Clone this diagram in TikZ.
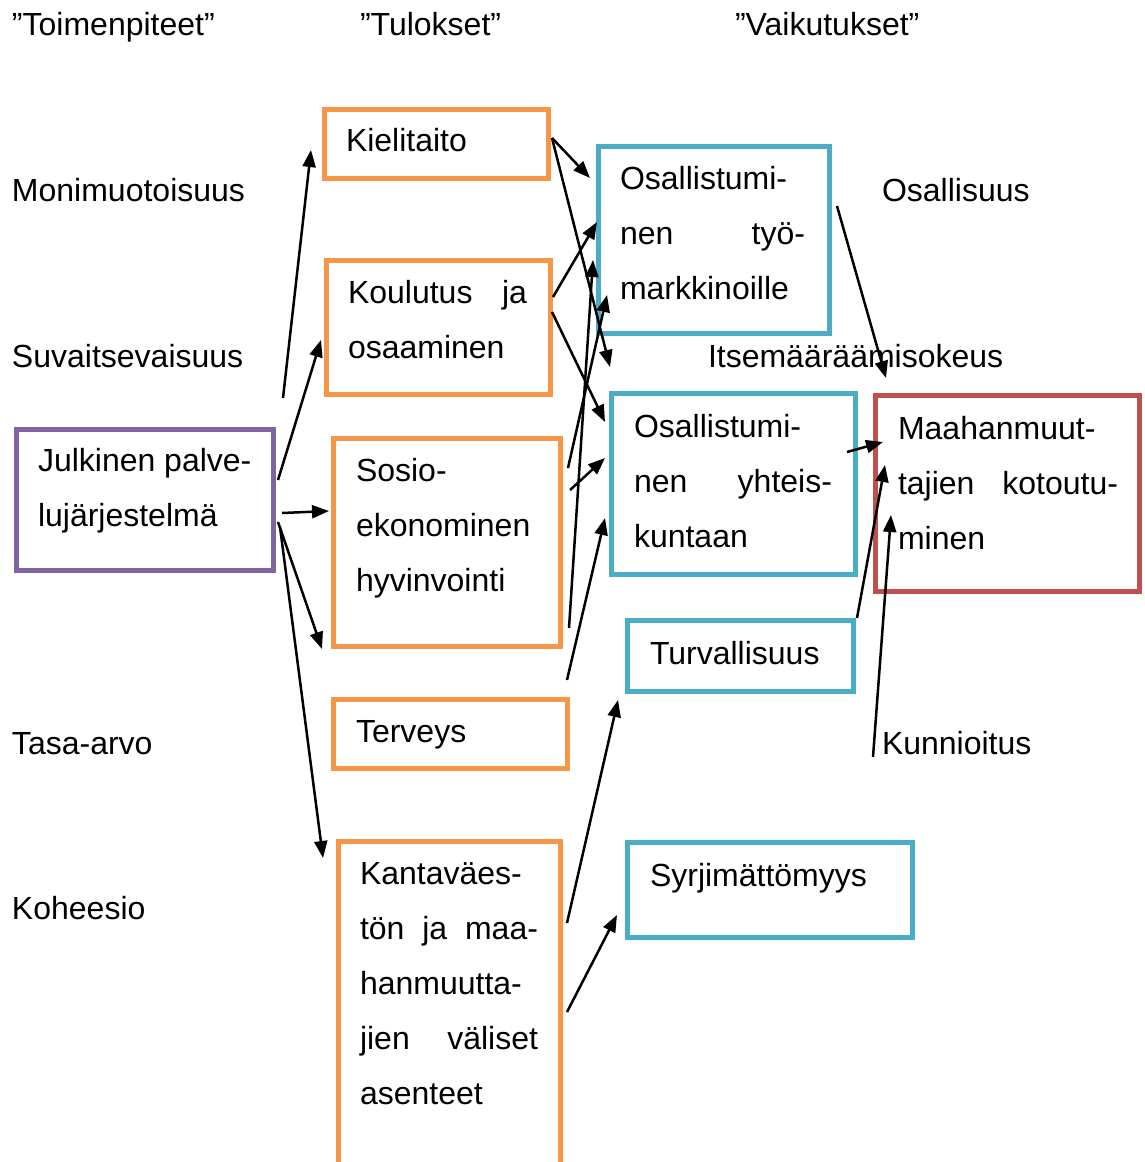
\documentclass[tikz,border=0pt]{standalone}
\usepackage{fontspec}
\setmainfont{Liberation Sans}
\usetikzlibrary{arrows.meta}
\definecolor{frpurple}{HTML}{8064A2}
\definecolor{frorange}{HTML}{F79646}
\definecolor{frblue}{HTML}{4BACC6}
\definecolor{frred}{HTML}{C0504D}
\newcommand\rows[1]{\vtop{#1}}
\begin{document}
\begin{tikzpicture}[x=1pt,y=-1pt,
  frame/.style={draw=#1, line width=5pt, inner sep=0pt, outer sep=0pt},
  txt/.style={anchor=base west, inner sep=0pt, outer sep=0pt, font=\fontsize{32}{55}\selectfont},
  arr/.style={line width=2.5pt, -{Triangle[length=17pt,width=13pt]}}]
\useasboundingbox (0,0) rectangle (1144,1162);
\clip (0,0) rectangle (1144,1162);

% column headings
\node[txt] (h1) at (12,35) {”Toimenpiteet”};
\node[txt] (h2) at (360,35) {”Tulokset”};
\node[txt] (h3) at (735,35) {”Vaikutukset”};

% free-standing values
\node[txt] (mon) at (12,201) {Monimuotoisuus};
\node[txt] (suv) at (12,367) {Suvaitsevaisuus};
\node[txt] (tas) at (12,754) {Tasa-arvo};
\node[txt] (koh) at (12,919) {Koheesio};
\node[txt] (osl) at (882,201) {Osallisuus};
\node[txt] (its) at (708,367) {Itsemääräämisokeus};
\node[txt] (kun) at (882,754) {Kunnioitus};

% actor
\node[frame=frpurple, minimum width=257pt, minimum height=141pt] (jul) at (145,500) {};
\node[txt] (jul-t) at (38,471) {\rows{\hbox{Julkinen palve-}\hbox{lujärjestelmä}}};

% outputs
\node[frame=frorange, minimum width=224pt, minimum height=69pt] (kiel) at (436.5,144) {};
\node[txt] (kiel-t) at (346,151) {Kielitaito};
\node[frame=frorange, minimum width=224pt, minimum height=134pt] (kou) at (438.5,327.5) {};
\node[txt] (kou-t) at (348,303) {\rows{\hbox to 179pt{Koulutus\hfill ja}\hbox{osaaminen}}};
\node[frame=frorange, minimum width=227pt, minimum height=208pt] (sos) at (447,542.5) {};
\node[txt] (sos-t) at (356,481) {\rows{\hbox{Sosio-}\hbox{ekonominen}\hbox{hyvinvointi}}};
\node[frame=frorange, minimum width=234pt, minimum height=69pt] (ter) at (450.5,734) {};
\node[txt] (ter-t) at (356,742) {Terveys};
\node[frame=frorange, minimum width=222pt, minimum height=400pt] (kan) at (449.5,1041.5) {};
\node[txt] (kan-t) at (360,884) {\rows{\hbox{Kantaväes-}\hbox to 178pt{tön\hfill ja\hfill maa-}\hbox{hanmuutta-}\hbox to 178pt{jien\hfill väliset}\hbox{asenteet}}};

% effects
\node[frame=frblue, minimum width=231pt, minimum height=187pt] (o1) at (714,240) {};
\node[txt] (o1-t) at (620,189) {\rows{\hbox{Osallistumi-}\hbox to 185pt{nen\hfill työ-}\hbox{markkinoille}}};
\node[frame=frblue, minimum width=244pt, minimum height=181pt] (o2) at (733.5,484) {};
\node[txt] (o2-t) at (634,437) {\rows{\hbox{Osallistumi-}\hbox to 198pt{nen\hfill yhteis-}\hbox{kuntaan}}};
\node[frame=frblue, minimum width=226pt, minimum height=71pt] (tur) at (740.5,656) {};
\node[txt] (tur-t) at (650,664) {Turvallisuus};
\node[frame=frblue, minimum width=285pt, minimum height=95pt] (syr) at (770,890) {};
\node[txt] (syr-t) at (650,886) {Syrjimättömyys};

% outcome
\node[frame=frred, minimum width=264pt, minimum height=196pt] (mah) at (1007.5,493.5) {};
\node[txt] (mah-t) at (898,439) {\rows{\hbox{Maahanmuut-}\hbox to 220pt{tajien\hfill kotoutu-}\hbox{minen}}};

% connectors from the actor
\draw[arr] ([shift={(9.5,-31.5)}]jul.north east) -- ([shift={(-13.5,6)}]kiel.west);
\draw[arr] ([shift={(4.5,-20)}]jul.east) -- ([shift={(-5.5,12.5)}]kou.west);
\draw[arr] ([shift={(8.5,13)}]jul.east) -- ([shift={(-4.5,-31.5)}]sos.west);
\draw[arr] ([shift={(4.5,22)}]jul.east) -- ([shift={(-11.5,2.5)}]sos.south west);
\draw[arr] ([shift={(6.5,27)}]jul.east) -- ([shift={(-15.5,16.5)}]kan.north west);

% connectors from the outputs
\draw[arr] ([shift={(3.5,-6)}]kiel.east) -- ([shift={(-8.5,-62)}]o1.west);
\draw[arr] ([shift={(3.5,-6)}]kiel.east) -- ([shift={(-1.5,-26.5)}]o2.north west);
\draw[arr] ([shift={(2.5,-30.5)}]kou.east) -- ([shift={(-1.5,-18)}]o1.west);
\draw[arr] ([shift={(1.5,-15.5)}]kou.east) -- ([shift={(-6.5,28.5)}]o2.north west);
\draw[arr] ([shift={(7.5,-74.5)}]sos.east) -- ([shift={(8.5,-38.5)}]o1.south west);
\draw[arr] ([shift={(8.5,85.5)}]sos.east) -- ([shift={(-5.5,20)}]o1.west);
\draw[arr] ([shift={(9.5,-52.5)}]sos.east) -- ([shift={(-6.5,-26)}]o2.west);
\draw[arr] ([shift={(-0.5,-19.5)}]ter.north east) -- ([shift={(-6.5,34)}]o2.west);
\draw[arr] ([shift={(6.5,81.5)}]kan.north east) -- ([shift={(-9.5,8.5)}]tur.south west);
\draw[arr] ([shift={(6.5,170.5)}]kan.north east) -- ([shift={(-10.5,25)}]syr.west);

% connectors into the outcome
\draw[arr] ([shift={(7.5,-34)}]o1.east) -- ([shift={(10.5,-17.5)}]mah.north west);
\draw[arr] ([shift={(-8.5,-32)}]o2.east) -- ([shift={(7.5,-51.5)}]mah.west);
\draw[arr] ([shift={(3.5,-2.5)}]tur.north east) -- ([shift={(9.5,-28.5)}]mah.west);
\draw[arr] ([shift={(-9,3)}]kun.base west) -- ([shift={(15.5,21.5)}]mah.west);
\end{tikzpicture}
\end{document}
